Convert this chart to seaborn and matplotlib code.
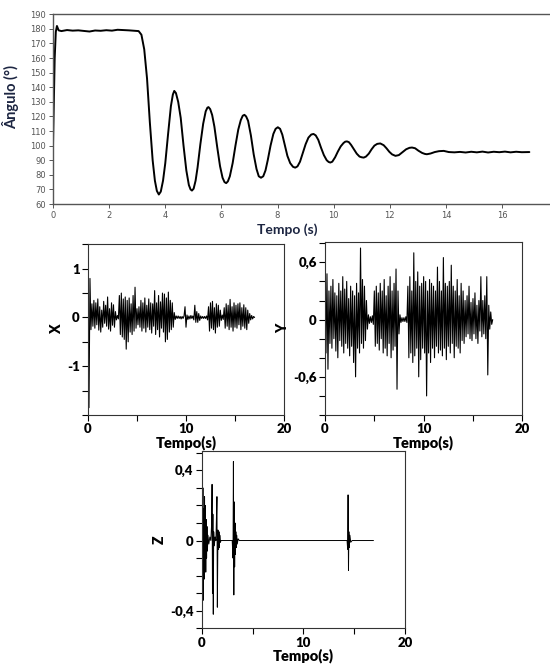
import numpy as np
import pandas as pd
import matplotlib
matplotlib.use("Agg")
import matplotlib.pyplot as plt
import seaborn as sns

# ---------------- data ----------------
ang_t = [0.00, 0.03, 0.06, 0.10, 0.14, 0.20, 0.30, 0.50, 0.70, 0.90, 1.10, 1.30, 1.50, 1.70, 1.90,
         2.10, 2.30, 2.50, 2.70, 2.90, 3.05, 3.15, 3.25, 3.35, 3.45, 3.55, 3.63, 3.70, 3.77, 3.84,
         3.92, 4.00, 4.10, 4.20, 4.27, 4.32, 4.38, 4.46, 4.55, 4.65, 4.75, 4.84, 4.90, 4.95, 5.01,
         5.08, 5.15, 5.25, 5.35, 5.44, 5.50, 5.54, 5.60, 5.67, 5.75, 5.85, 5.95, 6.04, 6.11, 6.17,
         6.23, 6.30, 6.40, 6.50, 6.60, 6.69, 6.76, 6.82, 6.88, 6.95, 7.05, 7.15, 7.25, 7.33, 7.41,
         7.49, 7.57, 7.65, 7.75, 7.85, 7.93, 8.01, 8.09, 8.17, 8.25, 8.35, 8.45, 8.55, 8.63, 8.71,
         8.80, 8.90, 9.00, 9.10, 9.20, 9.28, 9.36, 9.45, 9.55, 9.65, 9.75, 9.82, 9.88, 9.95,
         10.05, 10.15, 10.25, 10.35, 10.41, 10.47, 10.54, 10.62, 10.72, 10.82, 10.92, 11.00, 11.07,
         11.15, 11.25, 11.35, 11.45, 11.55, 11.66, 11.78, 11.88, 11.98, 12.08, 12.20, 12.32, 12.45,
         12.58, 12.70, 12.79, 12.90, 13.02, 13.15, 13.25, 13.32, 13.45, 13.60, 13.75, 13.92, 14.10,
         14.30, 14.50, 14.70, 14.90, 15.10, 15.30, 15.50, 15.70, 15.90, 16.10, 16.30, 16.50, 16.70,
         16.97]
ang_v = [100, 130, 160, 178, 182, 179, 178.5, 179.2, 178.8, 179.0, 178.6, 178.2, 178.9, 178.7, 179.1,
         178.8, 179.4, 179.2, 179.0, 178.7, 178.5, 176, 166, 146, 116, 90, 76, 69, 66.5, 68.5,
         76, 88, 108, 127, 135, 137.5, 136, 130, 119, 100, 83, 73, 70, 69.2, 70.5,
         76, 85, 101, 115, 123.5, 126, 126.4, 125, 121, 113, 99, 86, 78, 75, 74.3,
         75.5, 79, 88, 100, 111, 117.5, 120.5, 121.1, 120, 117, 107, 94, 84, 79, 78,
         79, 83, 90, 100, 108, 111.5, 112.6, 111.5, 107.5, 101, 93, 88, 85.5, 84.9, 85.8,
         89, 95, 101, 105.5, 107.6, 108, 107, 104, 98.5, 93.5, 90, 88.8, 88.4, 89,
         92, 96, 99.5, 101.8, 102.7, 102.9, 102.4, 100.5, 97.5, 94.5, 92.5, 92, 91.8,
         92.5, 94.5, 97.5, 100, 101.2, 101.5, 100.3, 98.2, 95.8, 94, 93, 93.5, 95.5,
         97.5, 98.5, 98.7, 98.2, 96.5, 95, 94.3, 94.1, 94.6, 95.6, 96.2, 96.4, 95.6,
         95.4, 95.7, 95.3, 95.8, 95.4, 95.9, 95.3, 95.8, 95.5, 95.9, 95.4, 95.8, 95.5,
         95.6]

acc_x = [1.02, -1.85, 0.80, -0.25, 0.28, -0.18, 0.35, -0.22, 0.30, -0.15,
         0.38, -0.26, 0.22, -0.30, 0.15, -0.20, 0.33, -0.12, 0.25, -0.18,
         0.42, -0.24, 0.18, -0.28, 0.30, -0.16, 0.26, -0.20, 0.12, -0.05,
         0.04, -0.03, 0.45, -0.35, 0.50, -0.40, 0.38, -0.45, 0.42, -0.65,
         0.35, -0.50, 0.40, -0.30, 0.28, -0.35, 0.45, -0.28, 0.62, -0.22,
         0.18, -0.15, 0.22, -0.20, 0.35, -0.28, 0.30, -0.22, 0.40, -0.30,
         0.25, -0.20, 0.38, -0.25, 0.30, -0.32, 0.28, -0.18, 0.55, -0.35,
         0.30, -0.25, 0.45, -0.40, 0.32, -0.22, 0.50, -0.30, 0.48, -0.50,
         0.40, -0.45, 0.52, -0.30, 0.35, -0.25, 0.30, -0.20, 0.10, -0.04,
         0.03, -0.02, 0.03, -0.02, 0.02, -0.03, 0.02, -0.02, 0.03, 0.22,
         -0.20, 0.05, -0.04, 0.03, -0.03, 0.04, -0.02, 0.03, -0.05, 0.25,
         -0.10, 0.12, -0.10, 0.08, -0.06, 0.03, -0.02, 0.02, -0.02, 0.02,
         -0.02, 0.03, -0.05, 0.22, -0.28, 0.30, -0.22, 0.33, -0.25, 0.20,
         -0.32, 0.28, -0.20, 0.25, -0.18, 0.15, -0.06, 0.05, -0.04, 0.20,
         -0.22, 0.28, -0.18, 0.25, -0.25, 0.37, -0.20, 0.22, -0.28, 0.30,
         -0.20, 0.25, -0.22, 0.28, -0.15, 0.30, -0.25, 0.20, -0.18, 0.26,
         -0.22, 0.20, -0.25, 0.15, -0.12, 0.08, -0.05, 0.04, -0.03, 0.02,
         0.0]

acc_y = [0.40, -0.35, 0.48, -0.52, 0.30, -0.25, 0.35, -0.30, 0.42, -0.20,
         0.28, -0.33, 0.25, -0.40, 0.38, -0.22, 0.30, -0.28, 0.45, -0.35,
         0.32, -0.25, 0.40, -0.30, 0.22, -0.38, 0.35, -0.28, 0.30, -0.45,
         0.25, -0.60, 0.38, -0.30, 0.28, -0.35, 0.75, -0.25, 0.42, -0.30,
         0.35, -0.22, 0.20, -0.10, 0.05, -0.04, 0.03, -0.03, 0.04, -0.05,
         0.30, -0.28, 0.35, -0.25, 0.28, -0.32, 0.38, -0.20, 0.30, -0.35,
         0.42, -0.30, 0.25, -0.38, 0.35, -0.25, 0.45, -0.40, 0.30, -0.32,
         0.38, -0.28, 0.53, -0.73, 0.30, -0.15, 0.05, -0.03, 0.02, -0.02,
         0.02, -0.02, 0.03, -0.03, 0.35, -0.40, 0.45, -0.35, 0.30, -0.45,
         0.70, -0.38, 0.40, -0.30, 0.50, -0.60, 0.35, -0.42, 0.38, -0.30,
         0.45, -0.35, 0.40, -0.80, 0.30, -0.35, 0.42, -0.45, 0.38, -0.30,
         0.35, -0.40, 0.30, -0.28, 0.55, -0.35, 0.40, -0.32, 0.30, -0.38,
         0.65, -0.30, 0.38, -0.42, 0.35, -0.28, 0.40, -0.35, 0.57, -0.25,
         0.35, -0.40, 0.30, -0.28, 0.42, -0.30, 0.25, -0.35, 0.38, -0.22,
         0.30, -0.25, 0.20, -0.18, 0.25, -0.15, 0.35, -0.20, 0.18, -0.22,
         0.22, -0.15, 0.28, -0.20, 0.15, -0.25, 0.20, -0.12, 0.45, -0.18,
         0.20, -0.15, 0.25, -0.20, 0.45, -0.58, 0.15, -0.10, 0.08, -0.05,
         0.0]

acc_t = [round(0.1 * i, 1) for i in range(len(acc_x))]

z_t = [0.00, 0.04, 0.08, 0.12, 0.16, 0.20, 0.24, 0.28, 0.32, 0.36,
       0.40, 0.44, 0.48, 0.52, 0.56, 0.62, 0.70, 0.80, 0.90, 0.98,
       1.02, 1.06, 1.10, 1.14, 1.18, 1.24, 1.32, 1.40, 1.46, 1.50,
       1.54, 1.60, 1.66, 1.70, 1.74, 1.78, 1.84, 1.90, 3.00, 3.08,
       3.12, 3.16, 3.20, 3.24, 3.28, 3.32, 3.36, 3.40, 3.44, 3.50,
       3.58, 3.70, 14.30, 14.36, 14.40, 14.44, 14.48, 14.52, 14.58, 14.66,
       14.80, 16.90]
z_v = [0.00, 0.20, -0.25, 0.30, -0.34, 0.18, -0.22, 0.25, -0.15, 0.20,
       -0.18, 0.12, -0.10, 0.08, -0.06, 0.03, -0.02, 0.02, 0.00, 0.10,
       0.32, -0.30, 0.15, -0.42, 0.05, -0.03, 0.02, 0.00, 0.15, 0.25,
       -0.38, 0.06, -0.05, 0.05, -0.04, 0.03, -0.01, 0.00, 0.00, -0.10,
       0.45, -0.31, 0.22, -0.15, 0.10, -0.08, 0.05, -0.04, 0.03, -0.02,
       0.01, 0.00, 0.00, -0.05, 0.26, -0.17, 0.05, -0.04, 0.03, -0.01,
       0.00, 0.00]

top_xticks = [0, 2, 4, 6, 8, 10, 12, 14, 16]
top_yticks = [60, 70, 80, 90, 100, 110, 120, 130, 140, 150, 160, 170, 180, 190]

# ---------------- style ----------------
sns.set_style("white")
plt.rcParams['font.family'] = ['Lato', 'DejaVu Sans']

fig = plt.figure(figsize=(5.5, 6.64), dpi=100)
W, H = 550.0, 664.0

def box(l, t, r, b):
    return [l / W, 1 - b / H, (r - l) / W, (b - t) / H]

navy = "#1c2541"

# ---- top panel ----
ax0 = fig.add_axes(box(53, 14.3, 552, 204))
sns.lineplot(x=ang_t, y=ang_v, ax=ax0, color="black", linewidth=1.4, sort=False, estimator=None)
ax0.set_xlim(0, (552 - 53) / 28.07)
ax0.set_ylim(60, 190)
ax0.set_xticks(top_xticks)
ax0.set_yticks(top_yticks)
ax0.tick_params(axis='both', which='both', direction='out', length=3, width=0.7,
                colors="#555555", labelsize=6, pad=2)
for lab in ax0.get_xticklabels() + ax0.get_yticklabels():
    lab.set_family('DejaVu Sans')
ax0.xaxis.set_ticks_position('bottom')
ax0.yaxis.set_ticks_position('left')
ax0.spines['right'].set_visible(False)
for s in ['top', 'bottom', 'left']:
    ax0.spines[s].set_color("#555555")
    ax0.spines[s].set_linewidth(1.0)
ax0.set_xlabel("Tempo (s)", fontsize=10, fontweight='bold', color=navy, labelpad=4)
ax0.xaxis.set_label_coords(0.47, -0.1)
ax0.set_ylabel("Ângulo (°)", fontsize=10.5, fontweight='bold', color=navy, labelpad=4)
ax0.yaxis.set_label_coords(-0.068, 0.566)


def style_small(ax, ylim, yticks, ylabels, ylab):
    ax.set_xlim(0, 20)
    ax.set_ylim(*ylim)
    ax.set_xticks([0, 5, 10, 15, 20])
    ax.set_xticklabels(["0", "", "10", "", "20"])
    ax.set_yticks(yticks)
    ax.set_yticklabels(ylabels)
    ax.tick_params(axis='both', direction='out', length=4, width=0.8, colors="black",
                   labelsize=9.5, pad=2)
    for lab in ax.get_xticklabels() + ax.get_yticklabels():
        lab.set_fontweight('heavy')
    ax.xaxis.set_ticks_position('bottom')
    ax.yaxis.set_ticks_position('left')
    for s in ax.spines.values():
        s.set_color("#333333")
        s.set_linewidth(0.8)
    ax.set_xlabel("Tempo(s)", fontsize=10.5, fontweight='heavy', color="black", labelpad=0)
    ax.set_ylabel(ylab, fontsize=10, fontweight='heavy', color="black", labelpad=3)


# ---- X panel ----
ax1 = fig.add_axes(box(88, 244.3, 284, 415))
sns.lineplot(x=acc_t, y=acc_x, ax=ax1, color="black", linewidth=0.8, sort=False, estimator=None)
style_small(ax1, (-2.0, 1.5), [-2, -1.5, -1, -0.5, 0, 0.5, 1, 1.5],
            ["", "", "-1", "", "0", "", "1", ""], "X")

# ---- Y panel ----
ax2 = fig.add_axes(box(325, 242.3, 522.3, 415))
sns.lineplot(x=acc_t, y=acc_y, ax=ax2, color="black", linewidth=0.8, sort=False, estimator=None)
style_small(ax2, (-1.0, 0.81), [-1.0, -0.8, -0.6, -0.4, -0.2, 0, 0.2, 0.4, 0.6, 0.8],
            ["", "", "-0,6", "", "", "0", "", "", "0,6", ""], "Y")

# ---- Z panel ----
ax3 = fig.add_axes(box(201.7, 451, 405, 628.3))
sns.lineplot(x=z_t, y=z_v, ax=ax3, color="black", linewidth=0.7, sort=False, estimator=None)
style_small(ax3, (-0.5, 0.51), [-0.5, -0.4, -0.3, -0.2, -0.1, 0, 0.1, 0.2, 0.3, 0.4, 0.5],
            ["", "-0,4", "", "", "", "0", "", "", "", "0,4", ""], "Z")

fig.savefig("out.png", dpi=100, facecolor="white")
